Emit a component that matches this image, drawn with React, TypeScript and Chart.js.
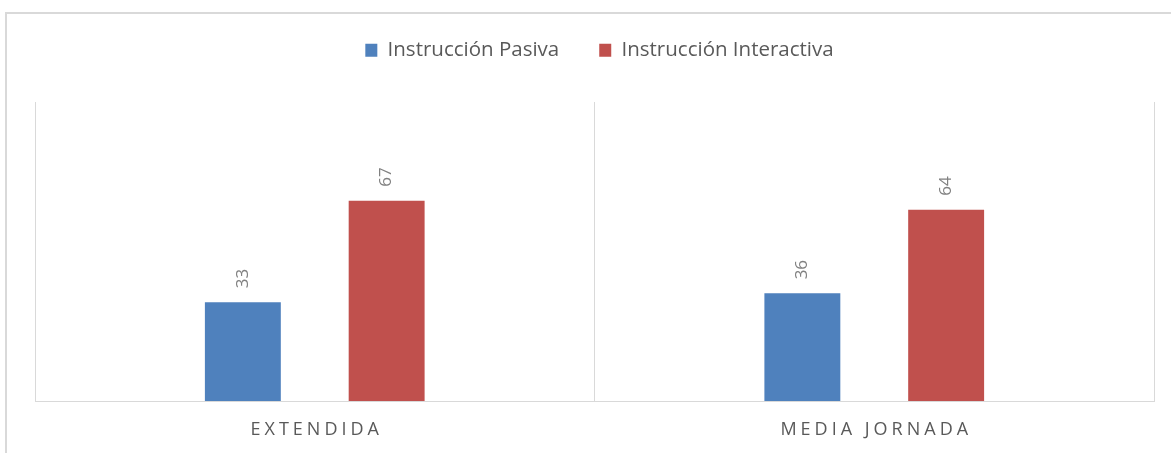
import React, { useEffect, useRef } from "react";
import { Chart, registerables } from "chart.js";

Chart.register(...registerables);

const categories = ["EXTENDIDA", "MEDIA JORNADA"];
const seriesNames = ["Instrucción Pasiva", "Instrucción Interactiva"];
const pasivaValues = [33, 36];
const interactivaValues = [67, 64];
const seriesColors = ["#4f81bd", "#c0504d"];

const FONT = "'Open Sans', 'Noto Sans', sans-serif";

const valueLabelPlugin = {
  id: "valueLabels",
  afterDatasetsDraw(chart: any) {
    const ctx = chart.ctx;
    ctx.save();
    ctx.font = `17px ${FONT}`;
    ctx.fillStyle = "#808080";
    ctx.textAlign = "left";
    ctx.textBaseline = "middle";
    chart.data.datasets.forEach((ds: any, di: number) => {
      const meta = chart.getDatasetMeta(di);
      meta.data.forEach((el: any, i: number) => {
        ctx.save();
        ctx.translate(el.x, el.y - 14);
        ctx.rotate(-Math.PI / 2);
        ctx.fillText(String(ds.data[i]), 0, 0);
        ctx.restore();
      });
    });
    ctx.restore();
  },
};

const legendShiftPlugin = {
  id: "legendShift",
  afterLayout(chart: any) {
    if (chart.legend) {
      chart.legend.left += 5;
      chart.legend.right += 5;
    }
  },
};

const categoryLabelPlugin = {
  id: "categoryLabels",
  afterDraw(chart: any) {
    const ctx = chart.ctx;
    const xs = chart.scales.x;
    const spacing = 4;
    ctx.save();
    ctx.font = `18px ${FONT}`;
    ctx.fillStyle = "#595959";
    ctx.textAlign = "center";
    ctx.textBaseline = "middle";
    const hasLS = "letterSpacing" in ctx;
    categories.forEach((label, i) => {
      const x = xs.getPixelForValue(i);
      const y = chart.chartArea.bottom + 29;
      if (hasLS) {
        ctx.letterSpacing = `${spacing}px`;
        ctx.fillText(label, x + spacing / 2, y);
      } else {
        ctx.fillText(label.split("").join("\u200a"), x, y);
      }
    });
    ctx.restore();
  },
};

export default function App() {
  const canvasRef = useRef<HTMLCanvasElement | null>(null);

  useEffect(() => {
    if (!canvasRef.current) return;
    const chart = new Chart(canvasRef.current, {
      type: "bar",
      data: {
        labels: categories,
        datasets: [
          {
            label: seriesNames[0],
            data: pasivaValues,
            backgroundColor: seriesColors[0],
            categoryPercentage: 0.514,
            barPercentage: 0.528,
          },
          {
            label: seriesNames[1],
            data: interactivaValues,
            backgroundColor: seriesColors[1],
            categoryPercentage: 0.514,
            barPercentage: 0.528,
          },
        ],
      },
      options: {
        responsive: false,
        animation: false,
        devicePixelRatio: 1,
        layout: { padding: { left: 35, right: 17, top: 0, bottom: 0 } },
        plugins: {
          legend: {
            position: "top",
            labels: {
              font: { family: FONT, size: 20.5 },
              color: "#595959",
              boxWidth: 12,
              boxHeight: 13,
              padding: 40,
            },
          },
          tooltip: { enabled: false },
          title: { display: false },
        },
        scales: {
          x: {
            position: "bottom",
            grid: { color: "#d9d9d9", drawTicks: false, offset: true, lineWidth: 1 },
            border: { color: "#d9d9d9", width: 1 },
            ticks: { display: false },
            afterFit: (s: any) => {
              s.height = 52;
            },
          },
          xTop: {
            type: "category",
            position: "top",
            grid: { display: false },
            border: { display: false },
            ticks: { display: false },
            afterFit: (s: any) => {
              s.height = 31.5;
            },
          },
          y: { display: false, min: 0, max: 100 },
        },
      } as any,
      plugins: [valueLabelPlugin, categoryLabelPlugin, legendShiftPlugin],
    });
    return () => chart.destroy();
  }, []);

  return (
    <div
      style={{
        position: "fixed",
        left: 0,
        top: 0,
        width: 1171,
        height: 453,
        overflow: "hidden",
        background: "#ffffff",
      }}
    >
      <div
        style={{
          position: "absolute",
          left: 5,
          top: 12,
          width: 1200,
          height: 500,
          border: "2px solid #d9d9d9",
          boxSizing: "border-box",
        }}
      />
      <canvas
        ref={canvasRef}
        width={1171}
        height={453}
        style={{ position: "absolute", left: 0, top: 0, width: 1171, height: 453 }}
      />
    </div>
  );
}
